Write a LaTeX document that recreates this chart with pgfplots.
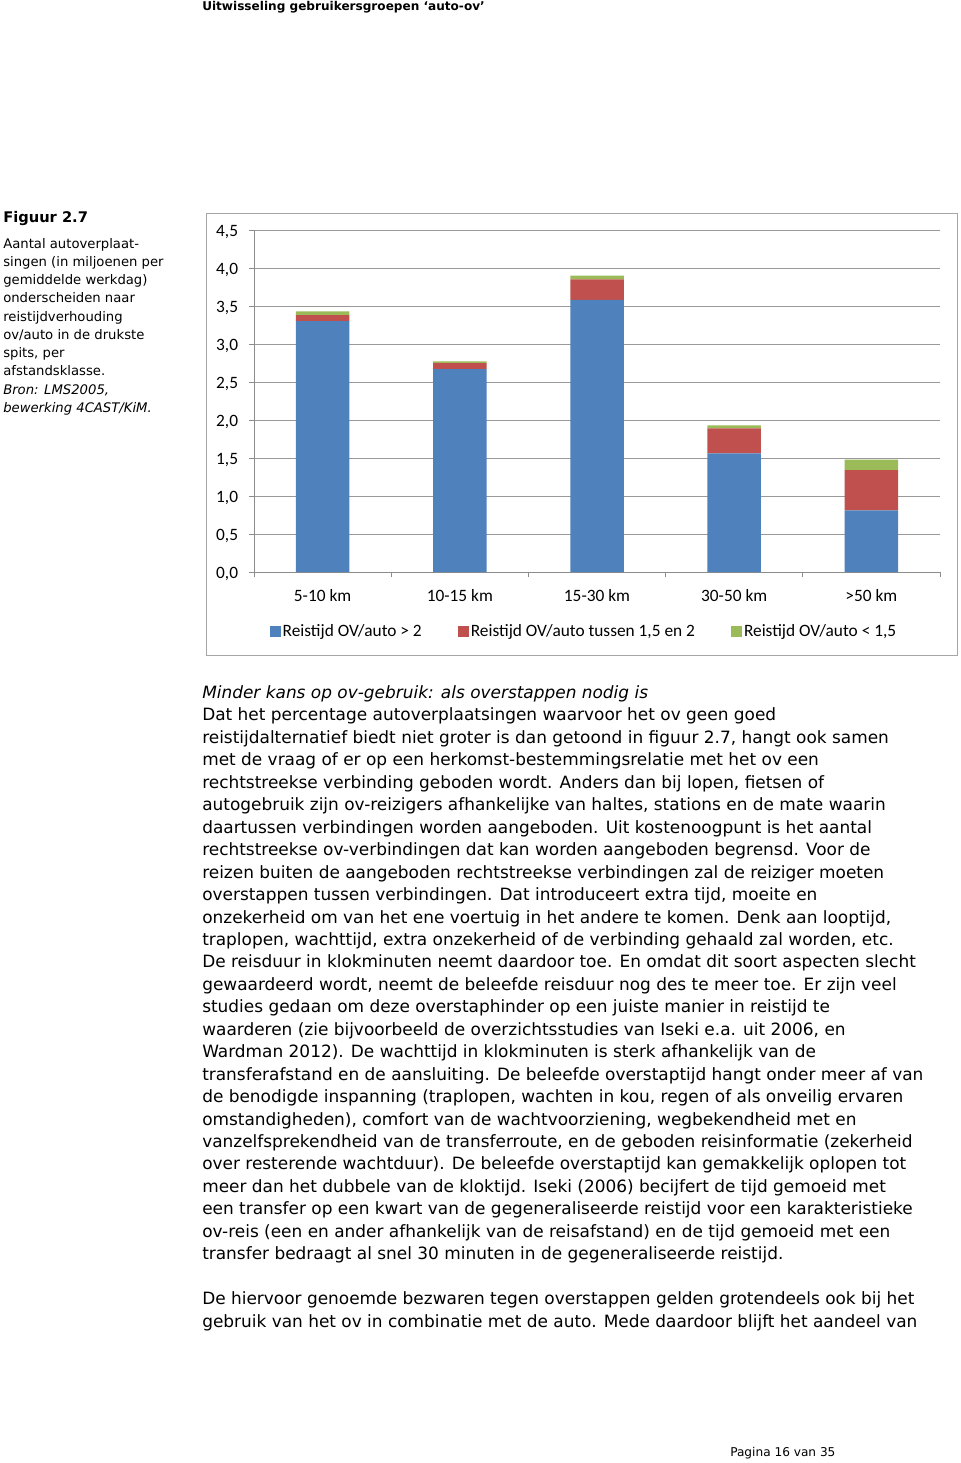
\documentclass[border=0pt]{standalone}
\usepackage{pgfplots}
\pgfplotsset{compat=1.18}
\usepackage{fontspec}
\setmainfont{DejaVu Sans}
\newfontfamily\calibri{Carlito}
\definecolor{cblue}{HTML}{4F81BD}
\definecolor{cred}{HTML}{C0504D}
\definecolor{cgreen}{HTML}{9BBB59}
\newcommand\bodyfont{\fontsize{12.7pt}{16.8pt}\selectfont}
\newcommand\capfont{\fontsize{9.9pt}{13.6pt}\selectfont}
\newcommand\chfont{\calibri\fontsize{13pt}{15pt}\selectfont}
\newcommand\bl[2]{\node[anchor=base west,inner sep=0pt,font=\bodyfont] at (202,{698.5+22.45*#1}) {#2};}
\newcommand\cl[2]{\node[anchor=base west,inner sep=0pt,font=\capfont] at (3,{248.3+18.23*#1}) {#2};}
\begin{document}
\begin{tikzpicture}
\path[use as bounding box] (0,0) rectangle (720pt,-1097.25pt);
\begin{scope}[x=0.75pt,y=-0.75pt]
\fill[white] (0,0) rectangle (960,1463);
\node[anchor=base west,inner sep=0pt,font=\bfseries\fontsize{9.06pt}{11pt}\selectfont] at (202,11) {Uitwisseling gebruikersgroepen ‘auto-ov’};
\node[anchor=base west,inner sep=0pt,font=\bfseries\fontsize{11pt}{13pt}\selectfont] at (3,222.3) {Figuur 2.7};
\cl{0}{Aantal autoverplaat-}
\cl{1}{singen (in miljoenen per}
\cl{2}{gemiddelde werkdag)}
\cl{3}{onderscheiden naar}
\cl{4}{reistijdverhouding}
\cl{5}{ov/auto in de drukste}
\cl{6}{spits, per}
\cl{7}{afstandsklasse.}
\cl{8}{\itshape Bron: LMS2005,}
\cl{9}{\itshape bewerking 4CAST/KiM.}
\draw[black!35, line width=0.75pt] (206,213) rectangle (957,655);
\bl{0}{\itshape Minder kans op ov-gebruik: als overstappen nodig is}
\bl{1}{Dat het percentage autoverplaatsingen waarvoor het ov geen goed}
\bl{2}{reistijdalternatief biedt niet groter is dan getoond in figuur 2.7, hangt ook samen}
\bl{3}{met de vraag of er op een herkomst-bestemmingsrelatie met het ov een}
\bl{4}{rechtstreekse verbinding geboden wordt. Anders dan bij lopen, fietsen of}
\bl{5}{autogebruik zijn ov-reizigers afhankelijke van haltes, stations en de mate waarin}
\bl{6}{daartussen verbindingen worden aangeboden. Uit kostenoogpunt is het aantal}
\bl{7}{rechtstreekse ov-verbindingen dat kan worden aangeboden begrensd. Voor de}
\bl{8}{reizen buiten de aangeboden rechtstreekse verbindingen zal de reiziger moeten}
\bl{9}{overstappen tussen verbindingen. Dat introduceert extra tijd, moeite en}
\bl{10}{onzekerheid om van het ene voertuig in het andere te komen. Denk aan looptijd,}
\bl{11}{traplopen, wachttijd, extra onzekerheid of de verbinding gehaald zal worden, etc.}
\bl{12}{De reisduur in klokminuten neemt daardoor toe. En omdat dit soort aspecten slecht}
\bl{13}{gewaardeerd wordt, neemt de beleefde reisduur nog des te meer toe. Er zijn veel}
\bl{14}{studies gedaan om deze overstaphinder op een juiste manier in reistijd te}
\bl{15}{waarderen (zie bijvoorbeeld de overzichtsstudies van Iseki e.a. uit 2006, en}
\bl{16}{Wardman 2012). De wachttijd in klokminuten is sterk afhankelijk van de}
\bl{17}{transferafstand en de aansluiting. De beleefde overstaptijd hangt onder meer af van}
\bl{18}{de benodigde inspanning (traplopen, wachten in kou, regen of als onveilig ervaren}
\bl{19}{omstandigheden), comfort van de wachtvoorziening, wegbekendheid met en}
\bl{20}{vanzelfsprekendheid van de transferroute, en de geboden reisinformatie (zekerheid}
\bl{21}{over resterende wachtduur). De beleefde overstaptijd kan gemakkelijk oplopen tot}
\bl{22}{meer dan het dubbele van de kloktijd. Iseki (2006) becijfert de tijd gemoeid met}
\bl{23}{een transfer op een kwart van de gegeneraliseerde reistijd voor een karakteristieke}
\bl{24}{ov-reis (een en ander afhankelijk van de reisafstand) en de tijd gemoeid met een}
\bl{25}{transfer bedraagt al snel 30 minuten in de gegeneraliseerde reistijd.}
\bl{27}{De hiervoor genoemde bezwaren tegen overstappen gelden grotendeels ook bij het}
\bl{28}{gebruik van het ov in combinatie met de auto. Mede daardoor blijft het aandeel van}
\node[anchor=base west,inner sep=0pt,font=\fontsize{9.1pt}{11pt}\selectfont] at (730,1456.7) {Pagina 16 van 35};
\end{scope}
\begin{axis}[
  at={(190.5pt,-429pt)}, anchor=south west,
  scale only axis, width=514.5pt, height=256.5pt,
  ybar stacked, bar width=0.39,
  xmin=-0.5, xmax=4.5, ymin=0, ymax=4.5,
  xtick={-0.5,0.5,1.5,2.5,3.5,4.5}, x tick label as interval,
  xticklabels={5-10 km,10-15 km,15-30 km,30-50 km,>50 km},
  ytick={0,0.5,1,1.5,2,2.5,3,3.5,4,4.5},
  axis x line=bottom, axis y line=left,
  axis line style={-, draw=black!45, line width=0.75pt},
  ymajorgrids, major grid style={draw=black!40, line width=0.75pt},
  tick align=outside, major tick length=3.75pt,
  tick style={draw=black!45, line width=0.75pt},
  ticklabel style={font=\chfont, text=black},
  yticklabel style={inner sep=0pt, xshift=-8pt, yshift=-1.5pt},
  xticklabel style={inner sep=0pt, yshift=-9pt},
  /pgf/number format/fixed, /pgf/number format/fixed zerofill,
  /pgf/number format/precision=1, /pgf/number format/use comma,
  /pgf/number format/assume math mode=true,
  legend style={at={(0.481,-0.174)}, anchor=center, legend columns=3,
    draw=none, fill=none, font=\chfont,
    /tikz/every even column/.append style={column sep=25.5pt},
    nodes={inner xsep=1.5pt, inner ysep=0pt}},
  legend image code/.code={\fill[#1] (0pt,-4.1pt) rectangle (8.25pt,4.1pt);},
]
\addplot[fill=cblue, draw=none] coordinates {(0,3.30) (1,2.67) (2,3.58) (3,1.56) (4,0.81)};
\addplot[fill=cred, draw=none] coordinates {(0,0.08) (1,0.08) (2,0.27) (3,0.33) (4,0.53)};
\addplot[fill=cgreen, draw=none] coordinates {(0,0.05) (1,0.02) (2,0.05) (3,0.04) (4,0.14)};
\legend{{Reistijd OV/auto > 2}, {Reistijd OV/auto tussen 1,5 en 2}, {Reistijd OV/auto < 1,5}}
\end{axis}
\end{tikzpicture}
\end{document}
